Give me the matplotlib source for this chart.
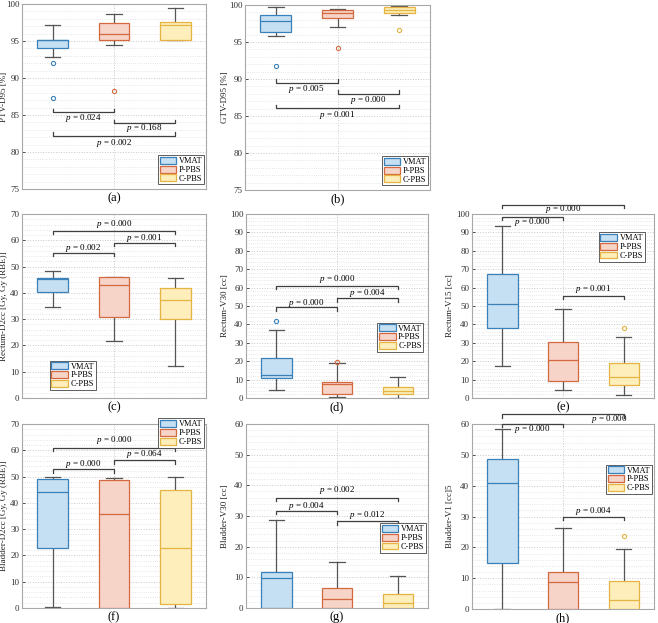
import matplotlib
matplotlib.use('Agg')
import matplotlib.pyplot as plt
from matplotlib.patches import Patch
from matplotlib.ticker import MultipleLocator, AutoMinorLocator

plt.rcParams['font.family'] = 'Liberation Serif'
plt.rcParams['mathtext.fontset'] = 'custom'
plt.rcParams['mathtext.rm'] = 'Liberation Serif'
plt.rcParams['mathtext.it'] = 'Liberation Serif:italic'

groups = ['VMAT', 'P-PBS', 'C-PBS']

# box stats per plan: (whisker low, Q1, median, Q3, whisker high)
ptv_d95 = [(92.8, 94.0, 95.1, 95.2, 97.1), (94.45, 95.1, 95.9, 97.5, 98.65), (95.1, 95.1, 97.2, 97.6, 99.4)]
ptv_d95_out = [[92.0, 87.3], [88.3], []]
ptv_d95_p = ['0.024', '0.168', '0.002']

gtv_d95 = [(95.85, 96.35, 97.9, 98.7, 99.7), (97.0, 98.25, 98.9, 99.3, 99.45), (98.6, 98.9, 99.3, 99.7, 99.8)]
gtv_d95_out = [[91.7], [94.2], [96.65]]
gtv_d95_p = ['0.005', '0.000', '0.001']

rectum_d2cc = [(34.8, 40.25, 45.2, 45.7, 48.2), (21.6, 30.8, 42.9, 46.0, 46.0), (12.2, 30.1, 37.1, 42.0, 45.8)]
rectum_d2cc_out = [[], [], []]
rectum_d2cc_p = ['0.002', '0.001', '0.000']

rectum_v30 = [(4.3, 10.85, 12.3, 21.5, 36.9), (0.5, 2.2, 7.6, 8.5, 18.9), (0.0, 2.2, 3.6, 5.8, 11.2)]
rectum_v30_out = [[41.95], [19.5], []]
rectum_v30_p = ['0.000', '0.004', '0.000']

rectum_v15 = [(17.4, 38.2, 51.0, 67.3, 93.7), (4.3, 9.2, 20.4, 30.2, 48.3), (1.4, 7.1, 11.4, 18.8, 33.1)]
rectum_v15_out = [[], [], [37.8]]
rectum_v15_p = ['0.000', '0.001', '0.000']

bladder_d2cc = [(0.4, 22.9, 44.2, 48.9, 50.0), (0.0, 0.0, 35.7, 48.6, 49.6), (0.0, 1.6, 22.8, 44.8, 50.0)]
bladder_d2cc_out = [[], [], []]
bladder_d2cc_p = ['0.000', '0.064', '0.000']

bladder_v30 = [(0.0, 0.0, 9.8, 11.6, 28.8), (0.0, 0.0, 3.0, 6.5, 14.9), (0.0, 0.0, 1.7, 4.55, 10.4)]
bladder_v30_out = [[], [], []]
bladder_v30_p = ['0.004', '0.012', '0.002']

bladder_v15 = [(0.0, 15.0, 40.8, 48.8, 58.3), (0.0, 0.0, 8.6, 12.0, 26.4), (0.0, 0.0, 3.0, 9.2, 19.4)]
bladder_v15_out = [[], [], [23.7]]
bladder_v15_p = ['0.000', '0.004', '0.000']

fill_colors = ['#c6e0f3', '#f7d4c8', '#fdeebb']
edge_colors = ['#3a80b9', '#d4693f', '#e5b443']
W, H = 658, 623

# panel layout: rect in pixels (left, top, right, bottom), ylabel x, legend anchor, brackets
# bracket: (i, j, y_line, y_text, tick sign, x_text or None)
panels = [
    dict(tag='(a)', ylabel='PTV-D95 [%]', stats=ptv_d95, out=ptv_d95_out, p=ptv_d95_p,
         ylim=(75, 100), step=5, rect=(22, 4, 206, 189), labx=-0.075, leg=('lower right', (0.99, 0.025)),
         br=[(1, 2, 85.4, 84.6, 1, None), (2, 3, 83.9, 83.2, 1, None), (1, 3, 82.2, 81.2, 1, None)]),
    dict(tag='(b)', ylabel='GTV-D95 [%]', stats=gtv_d95, out=gtv_d95_out, p=gtv_d95_p,
         ylim=(75, 100), step=5, rect=(245, 5, 430, 190), labx=-0.086, leg=('lower right', (0.99, 0.025)),
         br=[(1, 2, 89.5, 88.6, 1, None), (2, 3, 88.0, 87.1, 1, None), (1, 3, 86.1, 85.1, 1, None)]),
    dict(tag='(c)', ylabel='Rectum-D2cc [Gy, Gy (RBE)]', stats=rectum_d2cc, out=rectum_d2cc_out, p=rectum_d2cc_p,
         ylim=(0, 70), step=10, rect=(22, 214, 206, 398), labx=-0.075, leg=('lower left', (0.15, 0.045)),
         br=[(1, 2, 55.1, 57.0, -1, None), (2, 3, 58.9, 60.9, -1, None), (1, 3, 63.5, 66.2, -1, None)]),
    dict(tag='(d)', ylabel='Rectum-V30 [cc]', stats=rectum_v30, out=rectum_v30_out, p=rectum_v30_p,
         ylim=(0, 100), step=10, rect=(246, 214, 428, 398), labx=-0.093, leg=('upper right', (0.975, 0.41)),
         br=[(1, 2, 49.2, 51.9, -1, None), (2, 3, 54.1, 57.3, -1, None), (1, 3, 61.1, 64.7, -1, None)]),
    dict(tag='(e)', ylabel='Rectum-V15 [cc]', stats=rectum_v15, out=rectum_v15_out, p=rectum_v15_p,
         ylim=(0, 100), step=10, rect=(472, 214, 654, 398), labx=-0.099, leg=('upper right', (0.95, 0.90)),
         br=[(1, 2, 98.6, 95.8, -1, None), (2, 3, 55.7, 59.1, -1, None), (1, 3, 104.9, 102.9, -1, None)]),
    dict(tag='(f)', ylabel='Bladder-D2cc [Gy, Gy (RBE)]', stats=bladder_d2cc, out=bladder_d2cc_out, p=bladder_d2cc_p,
         ylim=(0, 70), step=10, rect=(22, 424, 206, 608), labx=-0.075, leg=('upper right', (0.99, 1.03)),
         br=[(1, 2, 52.8, 54.8, -1, None), (2, 3, 56.2, 58.5, -1, None), (1, 3, 61.0, 63.8, -1, None)]),
    dict(tag='(g)', ylabel='Bladder-V30 [cc]', stats=bladder_v30, out=bladder_v30_out, p=bladder_v30_p,
         ylim=(0, 60), step=10, rect=(246, 424, 428, 608), labx=-0.093, leg=('upper right', (0.99, 0.46)),
         br=[(1, 2, 31.7, 33.3, -1, None), (2, 3, 28.3, 30.2, -1, None), (1, 3, 36.0, 38.4, -1, None)]),
    dict(tag='(h)', ylabel='Bladder-V1 [cc]5', stats=bladder_v15, out=bladder_v15_out, p=bladder_v15_p,
         ylim=(0, 60), step=10, rect=(472, 424, 654, 609), labx=-0.099, leg=('upper right', (0.99, 0.78)),
         br=[(1, 2, 60.0, 58.4, -1, None), (2, 3, 29.9, 31.8, -1, None), (1, 3, 63.1, 61.5, -1, 2.76)]),
]

fig = plt.figure(figsize=(W / 100, H / 100), dpi=100)

for pn in panels:
    l, t, r, b = pn['rect']
    ax = fig.add_axes([l / W, 1 - b / H, (r - l) / W, (b - t) / H])
    stats = []
    for k, s in enumerate(pn['stats']):
        stats.append(dict(whislo=s[0], q1=s[1], med=s[2], q3=s[3], whishi=s[4], fliers=pn['out'][k]))
    bp = ax.bxp(stats, positions=[1, 2, 3], widths=0.5, capwidths=0.25, patch_artist=True,
                whiskerprops=dict(color='#555555', lw=0.9), capprops=dict(color='#555555', lw=0.9),
                flierprops=dict(marker='o', markersize=3, markerfacecolor='none', mew=0.8))
    for k in range(3):
        bp['boxes'][k].set_facecolor(fill_colors[k])
        bp['boxes'][k].set_edgecolor(edge_colors[k])
        bp['boxes'][k].set_linewidth(0.9)
        bp['medians'][k].set_color(edge_colors[k])
        bp['medians'][k].set_linewidth(0.9)
        bp['fliers'][k].set_markeredgecolor(edge_colors[k])
        bp['boxes'][k].set_zorder(3)
        bp['medians'][k].set_zorder(4)

    ax.set_xlim(0.5, 3.5)
    ax.set_ylim(*pn['ylim'])
    ax.set_xticks([2])
    ax.set_xticklabels([])
    ax.yaxis.set_major_locator(MultipleLocator(pn['step']))
    ax.yaxis.set_minor_locator(AutoMinorLocator(5))
    ax.grid(True, which='major', color='#c8c8c8', ls=':', lw=0.7)
    ax.grid(True, which='minor', axis='y', color='#dedede', ls=':', lw=0.6)
    ax.set_axisbelow(True)
    ax.tick_params(axis='both', which='both', direction='in', length=2, width=0.6,
                   labelsize=6.5, colors='#333333', pad=2)
    ax.tick_params(axis='x', length=0)
    ax.tick_params(which='minor', length=0)
    for sp in ax.spines.values():
        sp.set_color('#a8a8a8')
        sp.set_linewidth(0.8)
    ax.set_ylabel(pn['ylabel'], fontsize=6.5, color='#222222')
    ax.yaxis.set_label_coords(pn['labx'], 0.5)
    ax.text(0.5, -0.018, pn['tag'], transform=ax.transAxes, ha='center', va='top', fontsize=9)

    yr = pn['ylim'][1] - pn['ylim'][0]
    tick = 0.018 * yr
    for (i, j, yl, yt, sg, xt), pv in zip(pn['br'], pn['p']):
        ax.plot([i, i, j, j], [yl + sg * tick, yl, yl, yl + sg * tick], color='#404040', lw=0.9,
                clip_on=False, zorder=5)
        if xt is None:
            xt = (i + j) / 2
        ax.text(xt, yt, r'$p$ = ' + pv, ha='center', va='center', fontsize=6.5, clip_on=False)

    handles = [Patch(facecolor=fill_colors[k], edgecolor=edge_colors[k], lw=0.9) for k in range(3)]
    loc, anchor = pn['leg']
    lg = ax.legend(handles, groups, loc=loc, bbox_to_anchor=anchor, fontsize=6, fancybox=False,
                   framealpha=1, edgecolor='#444444', borderpad=0.2, labelspacing=0.05,
                   handlelength=2.0, handleheight=0.9, handletextpad=0.3, borderaxespad=0)
    lg.get_frame().set_linewidth(0.6)

fig.savefig('out.png', dpi=100)
